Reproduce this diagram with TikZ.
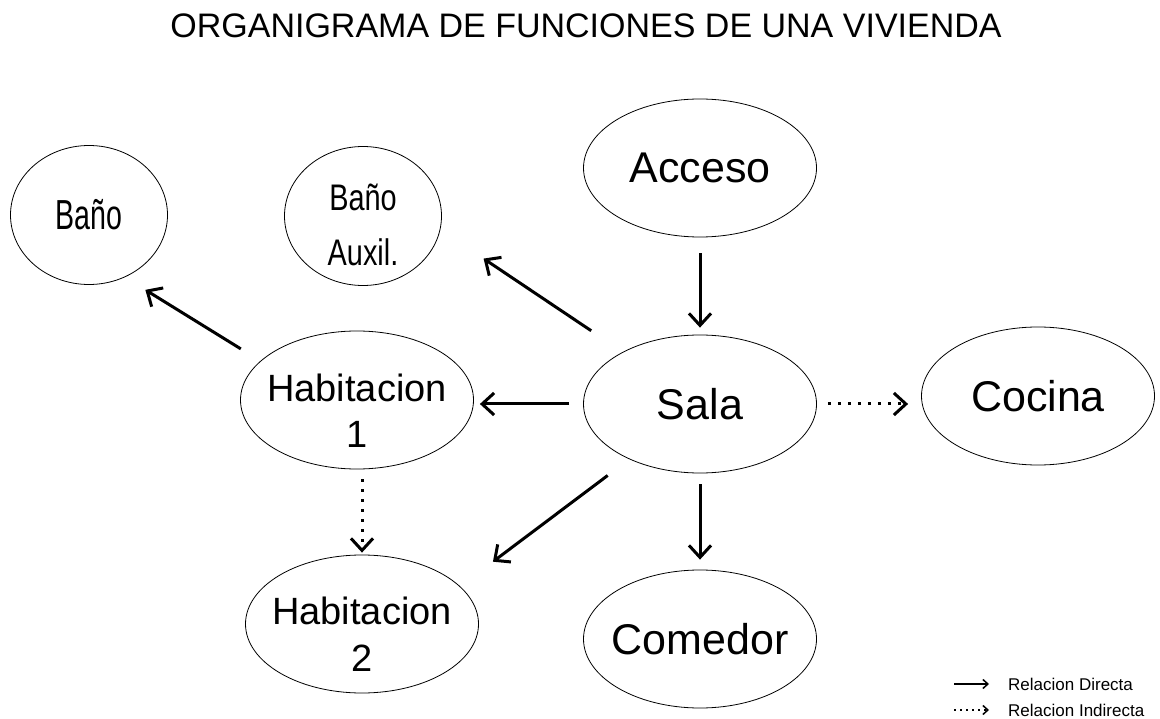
\documentclass[tikz,border=0pt]{standalone}
\usepackage{fontspec}
\setmainfont{Liberation Sans}
\usetikzlibrary{shapes,arrows.meta,positioning,calc}

\begin{document}
\begin{tikzpicture}[x=1pt,y=-1pt,
    room/.style={draw, ellipse, line width=0.8pt, inner sep=-40pt, minimum width=233pt, minimum height=138pt, align=center, font=\fontsize{43}{48}\selectfont},
    bath/.style={room, minimum width=157pt, minimum height=139pt},
    directa/.style={line width=3pt, -{Straight Barb[length=12pt,width=22pt]}},
    indirecta/.style={directa, dash pattern=on 3pt off 7pt},
    legdir/.style={line width=1.5pt, -{Straight Barb[length=5pt,width=9pt]}},
    legind/.style={legdir, dash pattern=on 2pt off 4pt}]
    \useasboundingbox (0,0) rectangle (1160,719);

    % Title
    \node[font=\fontsize{34}{40}\selectfont] (title) at (586,26) {ORGANIGRAMA DE FUNCIONES DE UNA VIVIENDA};

    % Rooms
    \node[bath, font=\fontsize{42}{48}\selectfont] (bano) at (89,215) {\scalebox{0.68}[1]{Baño}};
    \node[bath, font=\fontsize{37}{55}\selectfont] (banoaux) at (363,216) {\rule{0pt}{44pt}\scalebox{0.78}[1]{Baño}\\\scalebox{0.78}[1]{Auxil.}};
    \node[room] (acceso) at (700,168) {Acceso};
    \node[room] (sala) at (700,404) {Sala};
    \node[room] (cocina) at (1038,396) {Cocina};
    \node[room] (comedor) at (700,639) {Comedor};
    \node[room, font=\fontsize{38}{46}\selectfont] (hab1) at (357,400) {\rule{0pt}{48pt}Habitacion\\1};
    \node[room, font=\fontsize{38}{47}\selectfont] (hab2) at (362,624) {\rule{0pt}{48pt}Habitacion\\2};

    % Direct relations
    \draw[directa, shorten <=16pt, shorten >=7pt] (acceso.south) -- (sala.north);
    \draw[directa, shorten <=11pt, shorten >=10pt] (sala.south) -- (comedor.north);
    \draw[directa, shorten <=14pt, shorten >=6pt] (sala.west) -- (sala.west -| hab1.east);
    \draw[directa, shorten <=38pt, shorten >=52pt] (sala.146) -- (banoaux.-10);
    \draw[directa, shorten <=27pt, shorten >=41pt] (sala.218) -- (hab2.21);
    \draw[directa, shorten <=23pt, shorten >=24pt] (hab1.158) -- (bano.-60);

    % Indirect relations
    \draw[indirecta, shorten <=11pt, shorten >=13pt] (sala.east) -- (sala.east -| cocina.west);
    \draw[indirecta, shorten <=10pt, shorten >=2pt] (hab1.south -| hab2.north) -- (hab2.north);

    % Legend
    \node[anchor=west, inner sep=0pt, font=\fontsize{17}{20}\selectfont] (leg1) at (1008,684) {Relacion Directa};
    \node[anchor=west, inner sep=0pt, font=\fontsize{17}{20}\selectfont] (leg2) at (1008,710) {Relacion Indirecta};
    \coordinate (d1) at (954,684);
    \coordinate (d2) at (954,710);
    \draw[legdir, shorten >=19pt] (d1) -- (leg1);
    \draw[legind, shorten >=19pt] (d2) -- (leg2);
\end{tikzpicture}
\end{document}
